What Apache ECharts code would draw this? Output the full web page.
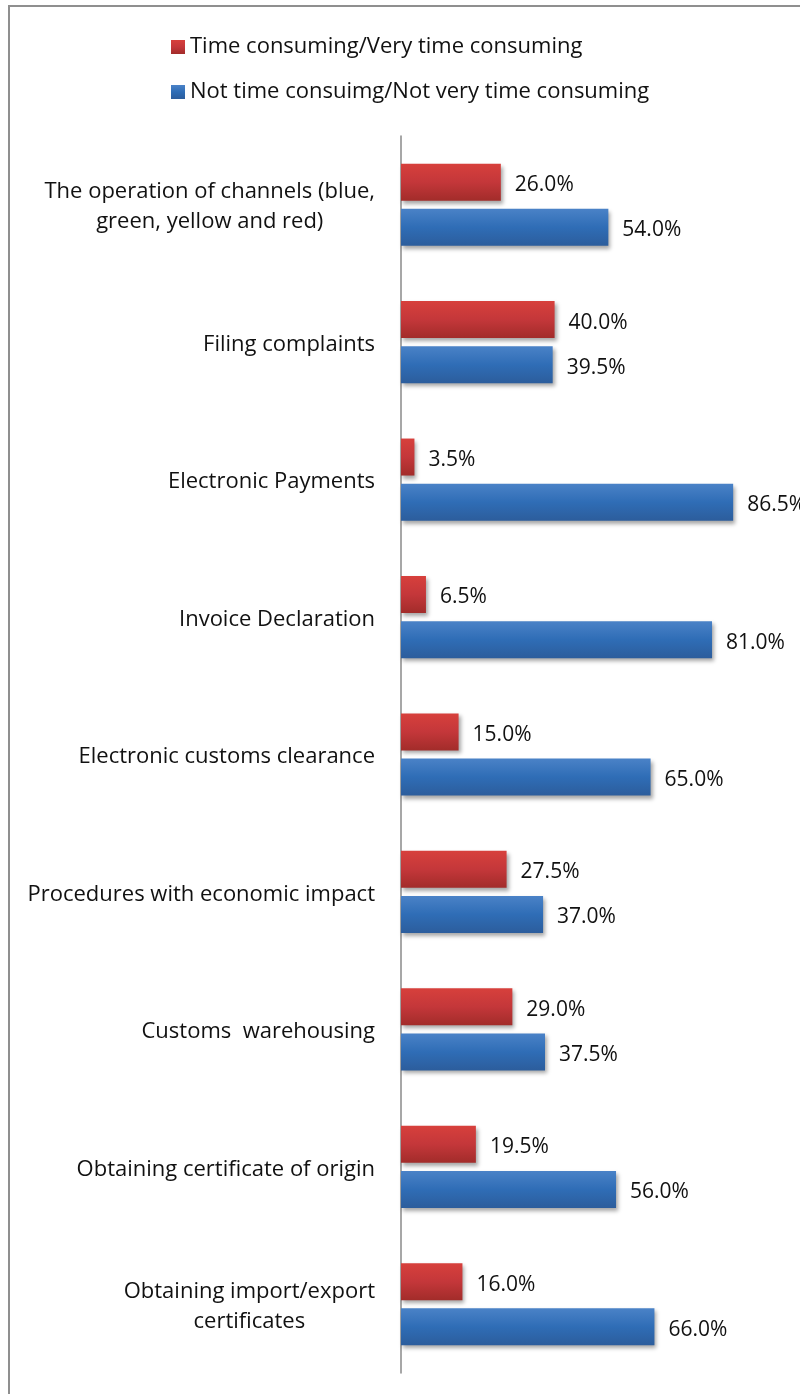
<!DOCTYPE html>
<html>
<head>
<meta charset="utf-8">
<script src="https://cdn.jsdelivr.net/npm/echarts@6/dist/echarts.min.js"></script>
<style>
  html, body { margin: 0; padding: 0; background: #fff; }
  #chart { width: 800px; height: 1394px; }
</style>
</head>
<body>
<div id="chart"></div>
<script>
// Survey items, listed top to bottom
const categories = [
  'The operation of channels (blue,\ngreen, yellow and red)',
  'Filing complaints',
  'Electronic Payments',
  'Invoice Declaration',
  'Electronic customs clearance',
  'Procedures with economic impact',
  'Customs  warehousing',
  'Obtaining certificate of origin',
  'Obtaining import/export\ncertificates'
];

const seriesNames = [
  'Time consuming/Very time consuming',
  'Not time consuimg/Not very time consuming'
];

// Share of respondents (%)
const timeConsuming    = [26.0, 40.0, 3.5, 6.5, 15.0, 27.5, 29.0, 19.5, 16.0];
const notTimeConsuming = [54.0, 39.5, 86.5, 81.0, 65.0, 37.0, 37.5, 56.0, 66.0];

const FONT = '"Open Sans"';
const TEXT_SIZE = 22;

function grad(top, mid, bottom) {
  return new echarts.graphic.LinearGradient(0, 0, 0, 1, [
    { offset: 0, color: top },
    { offset: 0.5, color: mid },
    { offset: 1, color: bottom }
  ]);
}

const redFill = grad('#d7403c', '#c4373a', '#a22c2a');
const blueFill = grad('#4a82c7', '#2f6db6', '#2c5d9c');

const barStyle = (fill) => ({
  color: fill,
  shadowColor: 'rgba(0,0,0,0.35)',
  shadowBlur: 4,
  shadowOffsetX: 2,
  shadowOffsetY: 3
});

const valueLabel = {
  show: true,
  position: 'right',
  distance: 14,
  offset: [0, 3],
  fontFamily: FONT,
  fontSize: 21,
  color: '#111',
  formatter: (p) => p.value.toFixed(1) + '%'
};

const chart = echarts.init(document.getElementById('chart'), null, { renderer: 'canvas' });

chart.setOption({
  animation: false,
  backgroundColor: '#ffffff',
  graphic: [{
    type: 'rect',
    shape: { x: 9, y: 6, width: 820, height: 1420 },
    style: { fill: 'none', stroke: '#8f8f8f', lineWidth: 2 },
    silent: true,
    z: -1
  }],
  legend: {
    orient: 'vertical',
    left: 166,
    top: 31,
    itemWidth: 14,
    itemHeight: 14,
    itemGap: 23,
    itemTextGap: 8,
    icon: 'rect',
    textStyle: { fontFamily: FONT, fontSize: TEXT_SIZE, color: '#111', lineHeight: 22 },
    data: seriesNames
  },
  grid: { left: 401, right: 15, top: 136, bottom: 21, containLabel: false },
  xAxis: {
    type: 'value',
    min: 0,
    max: 100,
    show: false
  },
  yAxis: {
    type: 'category',
    inverse: true,
    data: categories,
    axisLine: { show: true, lineStyle: { color: '#8a8a8a', width: 1.5 } },
    axisTick: { show: false },
    axisLabel: {
      margin: 26,
      fontFamily: FONT,
      fontSize: TEXT_SIZE,
      color: '#111',
      lineHeight: 30,
      padding: [5, 0, 0, 0],
      formatter: (v) => v.indexOf('\n') >= 0
        ? v.split('\n').map(s => '{c|' + s + '}').join('\n')
        : v,
      rich: {
        c: { align: 'center', fontFamily: FONT, fontSize: TEXT_SIZE, color: '#111', lineHeight: 30 }
      }
    },
    splitLine: { show: false }
  },
  series: [
    {
      name: seriesNames[0],
      type: 'bar',
      data: timeConsuming,
      barWidth: 37,
      barGap: '22%',
      itemStyle: barStyle(redFill),
      label: valueLabel
    },
    {
      name: seriesNames[1],
      type: 'bar',
      data: notTimeConsuming,
      barWidth: 37,
      barGap: '22%',
      itemStyle: barStyle(blueFill),
      label: valueLabel
    }
  ]
});
</script>
</body>
</html>
